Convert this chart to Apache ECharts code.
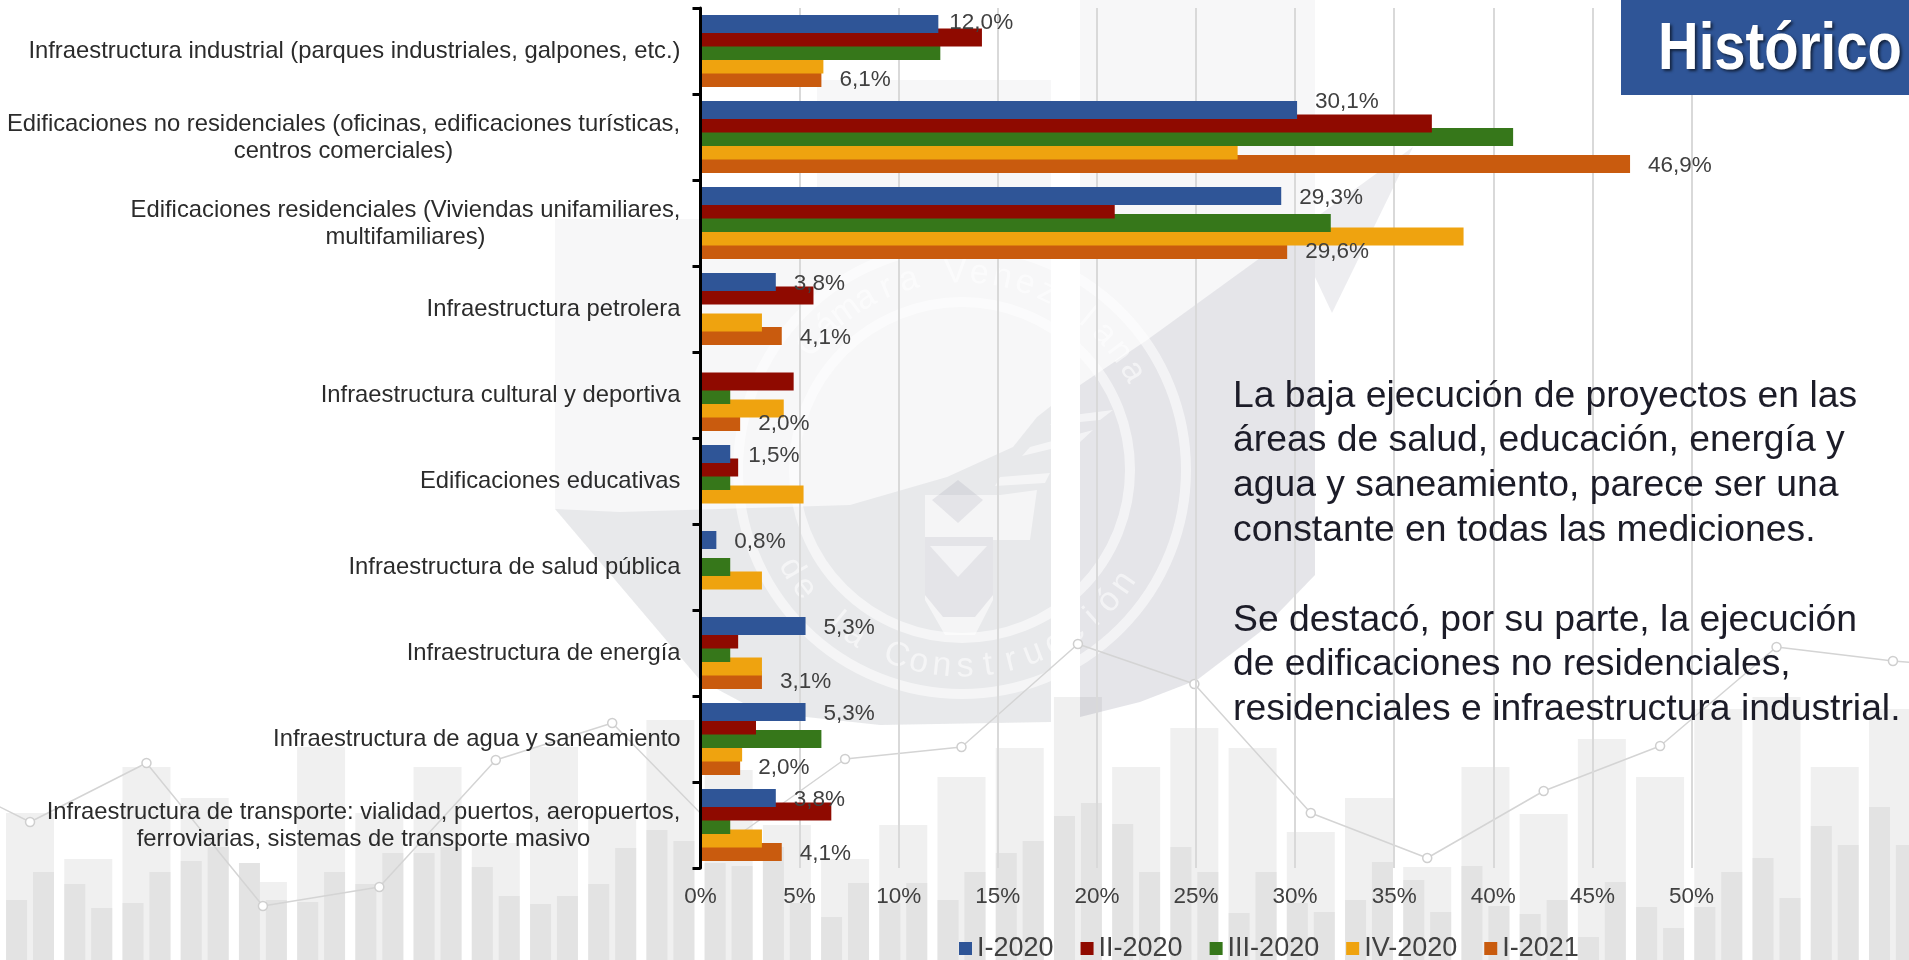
<!DOCTYPE html>
<html><head><meta charset="utf-8">
<style>html,body{margin:0;padding:0;background:#fff}#c{width:1909px;height:960px}</style>
<script src="https://cdn.jsdelivr.net/npm/echarts@6/dist/echarts.min.js"></script>
</head><body><div id="c"></div>
<script>
const categories = [
 'Infraestructura industrial (parques industriales, galpones, etc.)',
 'Edificaciones no residenciales (oficinas, edificaciones turísticas,\ncentros comerciales)',
 'Edificaciones residenciales (Viviendas unifamiliares,\nmultifamiliares)',
 'Infraestructura petrolera',
 'Infraestructura cultural y deportiva',
 'Edificaciones educativas',
 'Infraestructura de salud pública',
 'Infraestructura de energía',
 'Infraestructura de agua y saneamiento',
 'Infraestructura de transporte: vialidad, puertos, aeropuertos,\nferroviarias, sistemas de transporte masivo'
];
const i2020   = [12.0,30.1,29.3,3.8,null,1.5,0.8,5.3,5.3,3.8];
const ii2020  = [14.2,36.9,20.9,5.7,4.7,1.9,null,1.9,2.8,6.6];
const iii2020 = [12.1,41.0,31.8,null,1.5,1.5,1.5,1.5,6.1,1.5];
const iv2020  = [6.2,27.1,38.5,3.1,4.2,5.2,3.1,3.1,2.1,3.1];
const i2021   = [6.1,46.9,29.6,4.1,2.0,null,null,3.1,2.0,4.1];
const i2020Labelled = [true,true,true,true,false,true,true,true,true,true];

const decoTall  = [147,101,193,162,78,213,147,193,117,213,147,240,190,135,101,135,183,212,263,193,232,212,128,162,93,193,146,221,183,251,263,193,251];
const decoDarkA = [60,76,57,99,97,58,76,107,93,56,76,130,97,113,43,57,60,107,144,136,113,47,57,60,80,94,46,23,53,53,102,134,153];
const decoDarkB = [88,52,88,113,60,88,107,113,64,64,112,119,94,57,77,77,88,119,157,88,88,88,48,98,48,54,60,78,32,88,62,115,115];
const decoLine  = [196,138,197,54,73,200,237,118,201,213,316,276,147,102,169,214,313,299,290];

const titleText = 'Histórico';
const paragraph = 'La baja ejecución de proyectos en las\náreas de salud, educación, energía y\nagua y saneamiento, parece ser una\nconstante en todas las mediciones.\n\nSe destacó, por su parte, la ejecución\nde edificaciones no residenciales,\nresidenciales e infraestructura industrial.';
const sealTop = 'Cámara Venezolana';
const sealBottom = 'de la Construcción';

const FONT = '"Liberation Sans", Arial, sans-serif';
const CAT_SIZE = 23.8;
const slots = decoLine.length * 2 - 1;
const pad = a => [null, null, ...a, null, null];
const slotNames = Array.from({length: slots}, (_, i) => String(i));
const lineData = slotNames.map((_, i) => i % 2 === 0 ? decoLine[i / 2] : null);

// two-line category labels: the block sits right-aligned, its lines centred on each other
const ctx = document.createElement('canvas').getContext('2d');
ctx.font = CAT_SIZE + 'px ' + FONT;
const catRich = {};
categories.forEach((c, i) => {
  if (c.includes('\n')) catRich['c' + i] = {width: Math.ceil(ctx.measureText(c.split('\n')[0]).width), align: 'center',
    color: '#2b2b2b', fontFamily: FONT, fontSize: CAT_SIZE, lineHeight: 27};
});
const catFormatter = v => {
  const i = categories.indexOf(v);
  return v.includes('\n') ? v.split('\n').map(l => `{c${i}|${l}}`).join('\n') : v;
};

const PALE = 'rgba(120,125,140,0.06)', DARK = 'rgba(90,95,115,0.11)', DARK_L = 'rgba(90,95,115,0.09)', WHITE = 'rgba(255,255,255,0.55)';
const poly = (points, fill) => ({type: 'polygon', z: 2, silent: true, shape: {points}, style: {fill}});
const ring = (r, w) => ({type: 'circle', z: 2, silent: true, shape: {cx: 962, cy: 470, r}, style: {fill: 'none', stroke: WHITE, lineWidth: w}});
function arcText(str, from, to, top) {
  const n = str.length - 1;
  return Array.from(str).map((ch, i) => {
    const a = from + (to - from) * i / n, rad = a * Math.PI / 180;
    return {type: 'text', z: 2, silent: true,
      x: 962 + 197 * Math.cos(rad), y: 470 + 197 * Math.sin(rad),
      rotation: (top ? -(a + 90) : 90 - a) * Math.PI / 180,
      style: {text: ch, fill: WHITE, font: '34px ' + FONT, align: 'center', verticalAlign: 'middle'}};
  });
}
const watermark = [
  poly([[555,219],[817,219],[817,80],[1051,80],[1051,722],[880,725],[760,712],[700,680],[555,509]], PALE),
  poly([[1080,0],[1315,0],[1315,575],[1260,632],[1197,680],[1140,702],[1080,717]], PALE),
  poly([[555,509],[620,512],[850,505],[947,477],[1013,447],[1037,417],[1051,406],[1051,722],[880,725],[760,712],[700,680]], DARK_L),
  poly([[1080,385],[1147,340],[1413,147],[1332,313],[1315,277],[1315,575],[1260,632],[1197,680],[1140,702],[1080,717]], DARK),
  ring(224, 10), ring(168, 10),
  poly([[925,495],[1000,495],[1037,490],[1030,540],[993,540],[993,600],[975,635],[945,635],[925,600]], WHITE),
  poly([[932,500],[958,480],[983,500],[958,523]], DARK),
  poly([[925,537],[993,537],[993,595],[975,617],[943,617],[925,595]], DARK),
  poly([[930,546],[987,546],[958,577]], WHITE),
  poly([[1057,417],[1113,410],[1100,420],[1050,425]], WHITE),
  poly([[1030,447],[1093,430],[1080,442],[1022,456]], WHITE),
  poly([[1000,477],[1050,473],[1045,483],[995,486]], WHITE),
  ...arcText(sealTop, -140, -30, true),
  ...arcText(sealBottom, 150, 35, false)
];

const pct = p => p.value.toFixed(1).replace('.', ',') + '%';
const labelBase = {position: 'right', distance: 18, color: '#404040', fontFamily: FONT, fontSize: 22.5, formatter: pct};
const mainSeries = [
  {name: 'I-2020', data: i2020, color: '#2f5597', z: 9, shown: i2020Labelled},
  {name: 'II-2020', data: ii2020, color: '#8f0a00', z: 8},
  {name: 'III-2020', data: iii2020, color: '#36771a', z: 7},
  {name: 'IV-2020', data: iv2020, color: '#efa30f', z: 6},
  {name: 'I-2021', data: i2021, color: '#c95b0e', z: 5}
].map(s => ({
  type: 'bar', name: s.name, xAxisIndex: 0, yAxisIndex: 0, z: s.z,
  barWidth: 18, barGap: '-25%', itemStyle: {color: s.color},
  data: s.data.map((v, i) => {
    if (!s.shown || !s.shown[i]) return {value: v, label: {show: false}};
    const lab = {show: true, offset: [0, 2]};
    if (i === 0) lab.offset = [-7, -1];
    if (i === 1) lab.offset = [0, -8];
    return {value: v, label: lab};
  }),
  label: labelBase
}));

const grid0 = {left: 700.5, top: 8, width: 991, height: 860, outerBoundsMode: 'none'};
const chart = echarts.init(document.getElementById('c'), null, {renderer: 'canvas'});
chart.setOption({
  animation: false,
  backgroundColor: '#fff',
  grid: [
    grid0,
    {left: -115.5, top: 0, width: 2154, height: 960, outerBoundsMode: 'none'},
    grid0
  ],
  xAxis: [
    {type: 'value', gridIndex: 0, min: 0, max: 50, interval: 5, z: 4,
     axisLine: {show: false}, axisTick: {show: false},
     splitLine: {show: true, lineStyle: {color: '#d9d9d9', width: 2}},
     axisLabel: {formatter: '{value}%', color: '#404040', fontFamily: FONT, fontSize: 22.5, margin: 17}},
    {type: 'category', gridIndex: 1, data: slotNames, show: false},
    {type: 'category', gridIndex: 1, data: slotNames, show: false},
    {type: 'value', gridIndex: 2, min: 0, max: 50, interval: 5, show: false}
  ],
  yAxis: [
    {type: 'category', gridIndex: 0, data: categories, inverse: true, z: 12,
     axisLine: {show: true, lineStyle: {color: '#000', width: 3}},
     axisTick: {show: true, length: 8, lineStyle: {color: '#000', width: 3}},
     axisLabel: {color: '#2b2b2b', fontFamily: FONT, fontSize: CAT_SIZE, lineHeight: 27, margin: 20, align: 'right',
       interval: 0, padding: [1, 0, 0, 0], formatter: catFormatter, rich: catRich}},
    {type: 'value', gridIndex: 1, min: 0, max: 960, show: false},
    {type: 'category', gridIndex: 2, data: categories, inverse: true, show: false}
  ],
  legend: {
    left: 954, top: 930, icon: 'rect', itemWidth: 13, itemHeight: 13, itemGap: 27,
    data: mainSeries.map(s => s.name),
    textStyle: {color: '#404040', fontFamily: FONT, fontSize: 27}
  },
  graphic: {elements: [
    ...watermark,
    {type: 'rect', z: 20, silent: true, shape: {x: 1621, y: 0, width: 288, height: 95}, style: {fill: '#2f5597'}},
    {type: 'text', z: 21, silent: true, x: 1658, y: 51, scaleX: 0.84,
     style: {text: titleText, fill: '#fff', font: 'bold 67px ' + FONT, verticalAlign: 'middle',
       textShadowColor: 'rgba(0,0,0,0.6)', textShadowBlur: 3, textShadowOffsetX: 2, textShadowOffsetY: 2}},
    {type: 'text', z: 21, silent: true, x: 1233, y: 374,
     style: {text: paragraph, fill: '#1c1c28', font: '37.3px ' + FONT, lineHeight: 44.8, verticalAlign: 'top'}}
  ]},
  series: [
    {type: 'bar', xAxisIndex: 1, yAxisIndex: 1, z: 1, silent: true, barWidth: 48, data: pad(decoTall), itemStyle: {color: '#f0f0f0'}},
    {type: 'bar', xAxisIndex: 2, yAxisIndex: 1, z: 1, silent: true, barWidth: 21, barGap: '28%', data: pad(decoDarkA), itemStyle: {color: '#e3e3e3'}},
    {type: 'bar', xAxisIndex: 2, yAxisIndex: 1, z: 1, silent: true, barWidth: 21, barGap: '28%', data: pad(decoDarkB), itemStyle: {color: '#e3e3e3'}},
    {type: 'line', xAxisIndex: 1, yAxisIndex: 1, z: 3, silent: true, data: lineData, connectNulls: true,
     symbol: 'circle', symbolSize: 9, showAllSymbol: true,
     lineStyle: {color: '#d4d4d4', width: 1.5}, itemStyle: {color: '#fff', borderColor: '#cfcfcf', borderWidth: 1.5}},
    ...mainSeries,
    // the I-2021 value labels, lifted above the bars that overlap them
    {type: 'bar', xAxisIndex: 3, yAxisIndex: 2, z: 15, silent: true, barWidth: 18, data: i2021,
     itemStyle: {color: 'transparent'},
     label: {...labelBase, show: true, offset: [0, 29]}}
  ]
});
</script></body></html>
